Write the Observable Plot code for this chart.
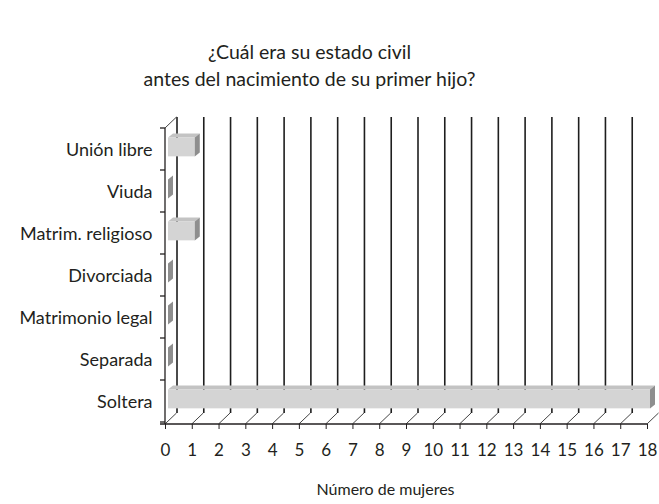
<!DOCTYPE html>
<html><head><meta charset="utf-8">
<script src="https://cdn.jsdelivr.net/npm/d3@7"></script>
<script src="https://cdn.jsdelivr.net/npm/@observablehq/plot@0.6"></script>
<style>
body{margin:0;background:#fff}
#chart{width:659px;height:504px}
#chart svg g[aria-label^="y-axis"] text{font-size:18px}
#chart svg g[aria-label^="x-axis"] text{font-size:17px}
</style>
</head><body><div id="chart"></div>
<script>
const categories = ["Unión libre", "Viuda", "Matrim. religioso", "Divorciada", "Matrimonio legal", "Separada", "Soltera"];
const values = [1, 0, 1, 0, 0, 0, 18];
const xTicks = [0, 1, 2, 3, 4, 5, 6, 7, 8, 9, 10, 11, 12, 13, 14, 15, 16, 17, 18];
const titleLines = ["¿Cuál era su estado civil", "antes del nacimiento de su primer hijo?"];
const xLabel = "Número de mujeres";

const data = categories.map((c, i) => ({cat: c, value: values[i]}));

const ink = "#231f20";
const wall = {dx: 11.5, dy: -11};
const bar = {dx: 3, dy: -3, ddx: 5, ddy: -4, h: 19};
const bandH = (504 - 80 - 128) / categories.length;
const inset = (bandH - bar.h) / 2;

function frameInfo(scales, dim) {
  const top = dim.marginTop, bottom = dim.height - dim.marginBottom;
  const bw = scales.y.bandwidth ? scales.y.bandwidth() : (bottom - top) / categories.length;
  return {top, bottom, bw};
}

function walls(index, scales, vals, dim) {
  const x = scales.x;
  const {top, bottom, bw} = frameInfo(scales, dim);
  const g = d3.create("svg:g").attr("fill", "none");
  for (const t of xTicks) {
    g.append("line")
      .attr("x1", x(t)).attr("y1", bottom)
      .attr("x2", x(t) + wall.dx).attr("y2", bottom + wall.dy)
      .attr("stroke", "#444").attr("stroke-width", 1);
  }
  g.append("line").attr("x1", x(0)).attr("x2", x(0)).attr("y1", top).attr("y2", bottom)
    .attr("stroke", ink).attr("stroke-width", 1.3);
  g.append("line").attr("x1", x(0)).attr("y1", top).attr("x2", x(0) + wall.dx).attr("y2", top + wall.dy)
    .attr("stroke", "#444").attr("stroke-width", 1);
  for (let j = 0; j <= categories.length; j++) {
    const yy = top + j * bw;
    g.append("line").attr("x1", x(0) - 5).attr("x2", x(0)).attr("y1", yy).attr("y2", yy)
      .attr("stroke", ink).attr("stroke-width", 1.3);
  }
  g.append("line").attr("x1", x(0) - 5).attr("x2", x(xTicks[xTicks.length - 1])).attr("y1", bottom).attr("y2", bottom)
    .attr("stroke", ink).attr("stroke-width", 1.3);
  return g.node();
}

function barSides(index, scales, vals, dim) {
  const x = scales.x, y = scales.y;
  const {bw} = frameInfo(scales, dim);
  const g = d3.create("svg:g").attr("stroke", "none");
  for (const d of data) {
    const x0 = x(0) + bar.dx, x1 = x(d.value) + bar.dx;
    const yc = y(d.cat) + bw / 2 + bar.dy;
    const t = yc - bar.h / 2, b = yc + bar.h / 2;
    if (x1 > x0) {
      g.append("path").attr("fill", "#c3c3c3")
        .attr("d", `M${x0},${t}L${x0 + bar.ddx},${t + bar.ddy}L${x1 + bar.ddx},${t + bar.ddy}L${x1},${t}Z`);
    }
    g.append("path").attr("fill", "#8e8e8e")
      .attr("d", `M${x1},${t}L${x1 + bar.ddx},${t + bar.ddy}L${x1 + bar.ddx},${b + bar.ddy}L${x1},${b}Z`);
  }
  return g.node();
}

const chart = Plot.plot({
  width: 659,
  height: 504,
  marginLeft: 165,
  marginRight: 12,
  marginTop: 128,
  marginBottom: 80,
  style: {fontFamily: "Lato, sans-serif", fontSize: "16px", color: ink, background: "white"},
  x: {domain: [0, 18], ticks: xTicks, tickSize: 5, tickPadding: 14, label: null, tickFormat: d => String(d)},
  y: {domain: categories, padding: 0, tickSize: 0, tickPadding: 13, label: null},
  marks: [
    walls,
    Plot.ruleX(xTicks.filter(d => d < 18), {x: d => d, dx: wall.dx, dy: wall.dy, stroke: "#1e1e1e", strokeWidth: 1.6}),
    Plot.barX(data, {x1: 0, x2: "value", y: "cat", dx: bar.dx, dy: bar.dy, insetTop: inset, insetBottom: inset, fill: "#d4d4d4"}),
    barSides,
    Plot.text([titleLines[0]], {text: d => d, frameAnchor: "top-left", dx: 144, dy: -83, textAnchor: "middle", fontSize: 19.5, fill: ink}),
    Plot.text([titleLines[1]], {text: d => d, frameAnchor: "top-left", dx: 144, dy: -56, textAnchor: "middle", fontSize: 19.5, fill: ink}),
    Plot.text([xLabel], {text: d => d, frameAnchor: "bottom-left", dx: 220, dy: 70, textAnchor: "middle", fontSize: 16, fill: ink})
  ]
});
document.getElementById("chart").append(chart);
</script>
</body></html>
